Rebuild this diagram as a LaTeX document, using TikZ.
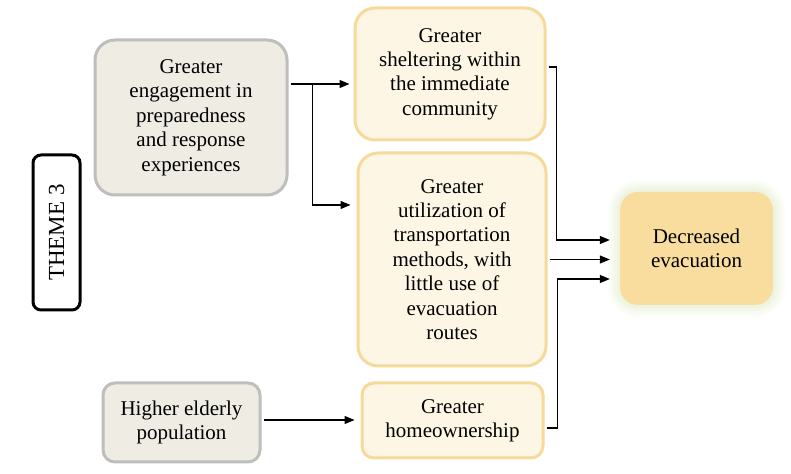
\documentclass[tikz,border=0pt]{standalone}
\usepackage{fontspec}
\setmainfont{Liberation Serif}
\usetikzlibrary{arrows.meta,calc}
\definecolor{grayfill}{HTML}{EEECE3}
\definecolor{grayline}{HTML}{BEBEBC}
\definecolor{lightfill}{HTML}{FEF6E5}
\definecolor{lightline}{HTML}{F5DA9A}
\definecolor{darkfill}{HTML}{F8DD9E}
\definecolor{glowcol}{HTML}{E6EFD4}
\tikzset{
  txt/.style={font=\fontsize{21}{24.4}\selectfont, align=center, inner sep=0pt},
  graybox/.style={txt, draw=grayline, line width=3pt, fill=grayfill, rounded corners=20pt},
  lightbox/.style={txt, draw=lightline, line width=3pt, fill=lightfill, rounded corners=20pt},
  outbox/.style={txt, fill=darkfill, rounded corners=18pt},
  themebox/.style={draw=black, line width=3pt, rounded corners=8pt, font=\fontsize{23}{26}\selectfont, inner sep=0pt},
  arr/.style={line width=1.1pt, -{Triangle[length=10pt,width=8pt]}},
  ln/.style={line width=1.1pt}
}
\begin{document}
\begin{tikzpicture}[x=1pt,y=1pt]
\useasboundingbox (0,0) rectangle (791,473);
% nodes
\node[themebox, minimum width=155pt, minimum height=47pt, rotate=90] (T) at (56.5,240.5) {THEME 3};
\node[graybox, minimum width=192pt, minimum height=155pt] (A) at (191,355.5)
  {Greater\\engagement in\\preparedness\\and response\\experiences};
\node[lightbox, minimum width=190pt, minimum height=132pt] (B) at (450,399)
  {Greater\\sheltering within\\the immediate\\community};
\node[lightbox, minimum width=188pt, minimum height=213pt] (C) at (452,213.5)
  {Greater\\utilization of\\transportation\\methods, with\\little use of\\evacuation\\routes};
\node[graybox, minimum width=157pt, minimum height=79pt, rounded corners=12pt] (D) at (181.5,50.5)
  {Higher elderly\\population};
\node[lightbox, minimum width=181pt, minimum height=75pt, rounded corners=12pt] (E) at (452.5,52.5)
  {Greater\\homeownership};
% glow behind F
\foreach \g/\o in {12/0.15,9/0.2,6/0.3,3/0.4}{
  \fill[glowcol, opacity=\o, rounded corners=18pt+\g pt] (696.5-76.5-\g,224.5-56.5-\g) rectangle (696.5+76.5+\g,224.5+56.5+\g);
}
\node[outbox, minimum width=153pt, minimum height=113pt] (F) at (696.5,224.5)
  {Decreased\\evacuation};
% connectors
\coordinate (a1) at ([yshift=33.5pt,xshift=2pt]A.east);
\coordinate (split) at ([xshift=22pt]a1);
\draw[ln] (a1) -- (split);
\draw[arr, shorten >=4pt] (split) -- (split -| B.west);
\draw[arr, shorten >=6pt] (split) |- ([yshift=54.5pt]C.west);
\coordinate (b1) at ([yshift=7pt,xshift=2pt]B.east);
\coordinate (b2) at ([xshift=8pt]b1);
\draw[arr, shorten >=10pt] (b1) -- (b2) |- ([yshift=8.5pt]F.west);
\draw[arr, shorten >=10pt] ([xshift=2pt]C.east) -- (C.east -| F.west);
\coordinate (e1) at ([yshift=-7.5pt,xshift=2pt]E.east);
\coordinate (e2) at ([xshift=11pt]e1);
\draw[arr, shorten >=10pt] (e1) -- (e2) |- ([yshift=-30.5pt]F.west);
\draw[arr, shorten >=6pt] ([xshift=2pt,yshift=2.5pt]D.east) -- ([yshift=0.5pt]E.west);
\end{tikzpicture}
\end{document}
